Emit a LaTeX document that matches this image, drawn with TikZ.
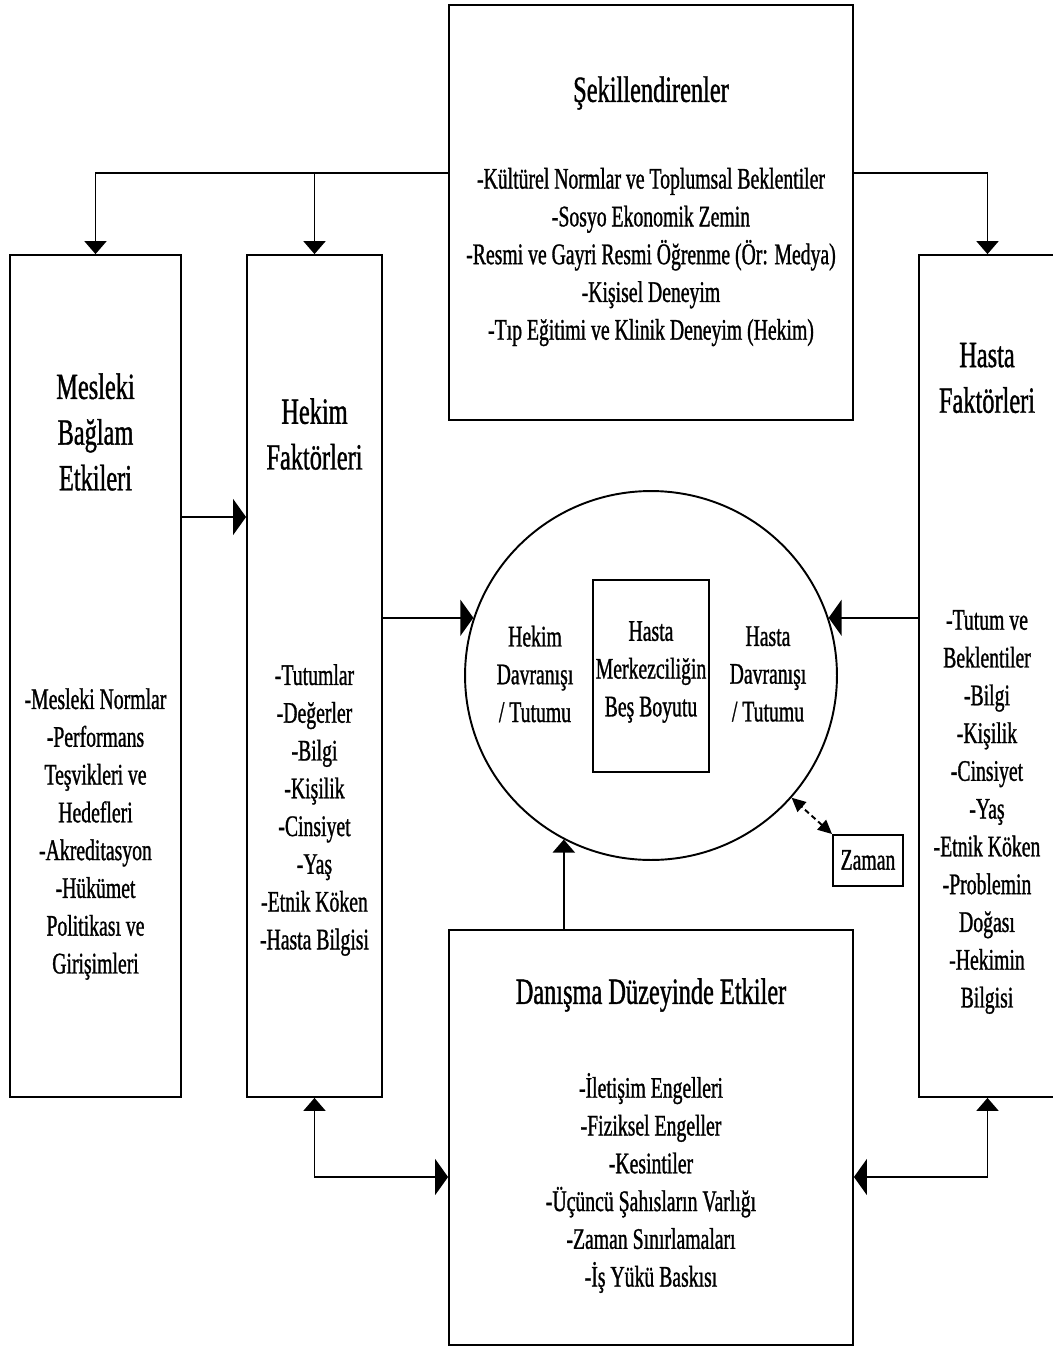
\documentclass[tikz,border=0pt]{standalone}
\usepackage{fontspec}
\setmainfont{Liberation Serif}[FakeStretch=0.66,FakeBold=1]
\usetikzlibrary{arrows.meta,shapes.geometric}
\tikzset{frame/.style={draw,line width=1.1pt,inner sep=0pt},head/.style={align=center,font=\fontsize{21}{26}\selectfont},items/.style={align=center,font=\fontsize{17}{21.5}\selectfont},vtip/.tip={Triangle[width=4.4mm,length=2.6mm]},htip/.tip={Triangle[width=7.2mm,length=2.6mm]},ztip/.tip={Triangle[width=2.6mm,length=2.8mm]},flow/.style={line width=1.1pt}}

\begin{document}
\begin{tikzpicture}[x=0.02cm,y=-0.02cm]
\useasboundingbox (0,0) rectangle (1052,1349);
\node[frame,minimum width=8.08cm,minimum height=8.3cm] (sekil) at (651,212.5) {};
\node[frame,minimum width=3.42cm,minimum height=16.84cm] (mesleki) at (95.5,676) {};
\node[frame,minimum width=2.7cm,minimum height=16.84cm] (hekimf) at (314.5,676) {};
\node[frame,minimum width=2.74cm,minimum height=16.84cm] (hastaf) at (987.5,676) {};
\node[frame,minimum width=8.08cm,minimum height=8.3cm] (danisma) at (651,1137.5) {};
\node[frame,ellipse,minimum width=7.44cm,minimum height=7.38cm] (dims) at (651,675.5) {};
\node[frame,minimum width=2.32cm,minimum height=3.84cm] (boyut) at (651,676) {};
\node[frame,minimum width=1.4cm,minimum height=1.02cm] (zaman) at (868,860.5) {};
\node[head] (sekilT) at (651,93) {Şekillendirenler};
\node[items] (sekilL) at (651,257) {-Kültürel Normlar ve Toplumsal Beklentiler\\-Sosyo Ekonomik Zemin\\-Resmi ve Gayri Resmi Öğrenme (Ör: Medya)\\-Kişisel Deneyim\\-Tıp Eğitimi ve Klinik Deneyim (Hekim)};
\node[head] (meslekiT) at (95.5,432) {Mesleki\\Bağlam\\Etkileri};
\node[items] (meslekiL) at (95.5,834) {-Mesleki Normlar\\-Performans\\Teşvikleri ve\\Hedefleri\\-Akreditasyon\\-Hükümet\\Politikası ve\\Girişimleri};
\node[head] (hekimT) at (314.5,434) {Hekim\\Faktörleri};
\node[items] (hekimL) at (314.5,810) {-Tutumlar\\-Değerler\\-Bilgi\\-Kişilik\\-Cinsiyet\\-Yaş\\-Etnik Köken\\-Hasta Bilgisi};
\node[head] (hastaT) at (987,378) {Hasta\\Faktörleri};
\node[items] (hastaL) at (987,812) {-Tutum ve\\Beklentiler\\-Bilgi\\-Kişilik\\-Cinsiyet\\-Yaş\\-Etnik Köken\\-Problemin\\Doğası\\-Hekimin\\Bilgisi};
\node[items] (hekimD) at (535,674) {Hekim\\Davranışı\\/ Tutumu};
\node[items] (boyutT) at (651,672) {Hasta\\Merkezciliğin\\Beş Boyutu};
\node[items] (hastaD) at (768,674) {Hasta\\Davranışı\\/ Tutumu};
\node[items] (zamanT) at (868,860) {Zaman};
\node[head] (danismaT) at (651,995) {Danışma Düzeyinde Etkiler};
\node[items] (danismaL) at (651,1183) {-İletişim Engelleri\\-Fiziksel Engeller\\-Kesintiler\\-Üçüncü Şahısların Varlığı\\-Zaman Sınırlamaları\\-İş Yükü Baskısı};
\coordinate (topy) at (0,173);
\coordinate (midy) at (0,517);
\coordinate (lowy) at (0,1177);
\draw[flow,-vtip] (sekil.west |- topy) -| (mesleki.north);
\draw[flow,-vtip] (hekimf.north |- topy) -- (hekimf.north);
\draw[flow,-vtip] (sekil.east |- topy) -| (hastaf.north);
\draw[flow,-htip] (mesleki.east |- midy) -- (hekimf.west |- midy);
\draw[flow,-htip] (hekimf.east |- dims.162) -- (dims.162);
\draw[flow,-htip] (hastaf.west |- dims.18) -- (dims.18);
\draw[flow,-vtip] (danisma.north -| dims.242) -- (dims.242);
\draw[flow,densely dashed,ztip-ztip] (zaman.north west) -- (dims.-41);
\draw[flow,vtip-htip] (hekimf.south) |- (danisma.west |- lowy);
\draw[flow,vtip-htip] (hastaf.south) |- (danisma.east |- lowy);
\end{tikzpicture}
\end{document}
